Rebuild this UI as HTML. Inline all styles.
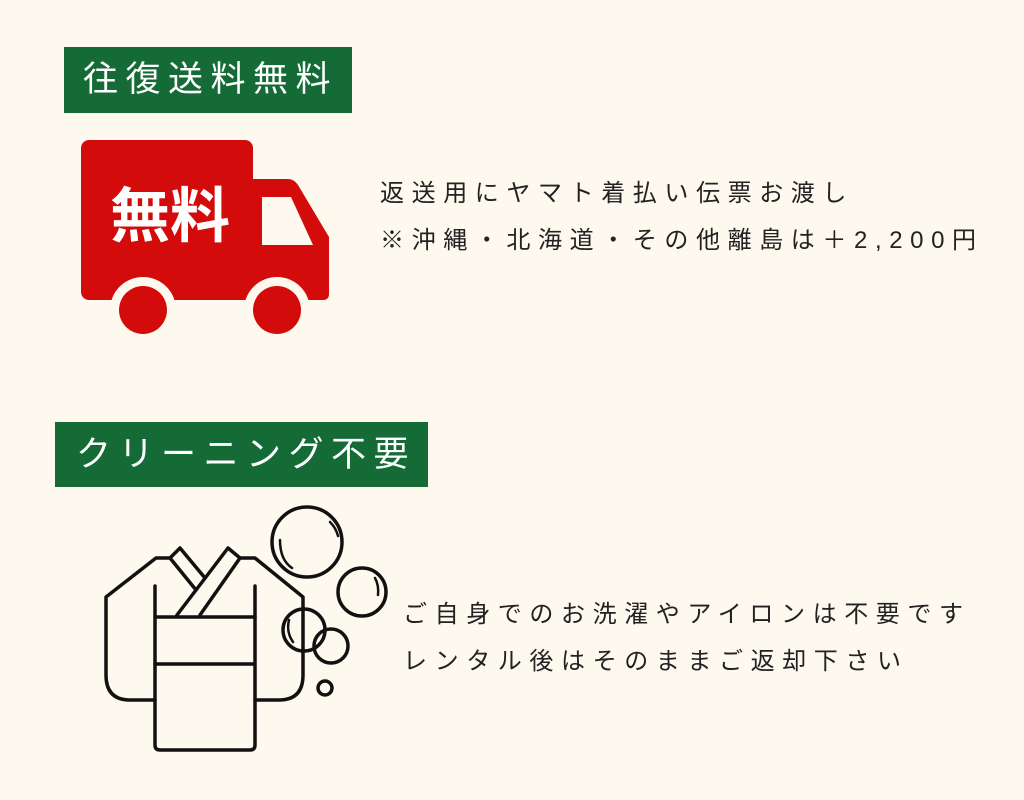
<!DOCTYPE html>
<html><head><meta charset="utf-8"><style>
body{margin:0;width:1024px;height:800px;background:#fdf9ee;position:relative;overflow:hidden;font-family:"Liberation Sans","Noto Sans CJK JP",sans-serif;}
.h{position:absolute;background:#146b36;color:#fff;font-size:35px;letter-spacing:7.5px;line-height:65px;box-sizing:border-box;white-space:nowrap;}
.t{position:absolute;font-size:24px;letter-spacing:7.6px;color:#222;white-space:nowrap;line-height:46px;}
</style></head><body>
<div class="h" style="left:64px;top:47px;width:288px;height:66px;padding-left:19px;">往復送料無料</div>
<div class="h" style="left:55px;top:422px;width:373px;height:65px;padding-left:21px;">クリーニング不要</div>
<svg width="1024" height="800" style="position:absolute;left:0;top:0">
<rect x="81" y="140" width="172" height="160" rx="8" fill="#d30b0b"/>
<path d="M248 179 H288 Q294 179 298 185 L329 237 V294 Q329 300 323 300 H248 Z" fill="#d30b0b"/>
<polygon points="262,197 291,197 313,245 262,245" fill="#fdf9ee"/>
<circle cx="143" cy="310" r="33" fill="#fdf9ee"/><circle cx="143" cy="310" r="24" fill="#d30b0b"/>
<circle cx="277" cy="310" r="33" fill="#fdf9ee"/><circle cx="277" cy="310" r="24" fill="#d30b0b"/>
<text x="170" y="237" font-size="60" font-weight="bold" fill="#fff" text-anchor="middle" font-family="Noto Sans CJK JP,sans-serif">無料</text>
<g fill="none" stroke="#111" stroke-width="3.5" stroke-linejoin="round" stroke-linecap="round">
<path d="M155 700 H130 Q106 700 106 675 V597 L156 558 H170"/>
<path d="M255 700 H279 Q303 700 303 675 V597 L255 558 H240"/>
<path d="M155 586 V745 Q155 750 160 750 H250 Q255 750 255 745 V586"/>
<path d="M155 617 H255 M155 664 H255"/>
<path d="M170 558 L180 548 L205 578 M170 558 L196 590"/>
<path d="M177 615 L228 548 L240 558 L200 615"/>
<circle cx="307" cy="542" r="35"/><circle cx="362" cy="592" r="24"/>
<circle cx="304" cy="630" r="21"/><circle cx="331" cy="646" r="17"/><circle cx="325" cy="688" r="7"/>
</g>
<g fill="none" stroke="#111" stroke-width="2.5" stroke-linecap="round">
<path d="M280 540 Q280 560 292 568"/><path d="M330 522 Q336 528 338 536"/>
<path d="M375 578 Q379 585 378 595"/><path d="M289 620 Q286 632 293 642"/>
</g>
</svg>
<div class="t" style="left:380px;top:171px;">返送用にヤマト着払い伝票お渡し</div>
<div class="t" style="left:380px;top:218px;">※沖縄・北海道・その他離島は＋2,200円</div>
<div class="t" style="left:403px;top:592px;">ご自身でのお洗濯やアイロンは不要です</div>
<div class="t" style="left:403px;top:639px;">レンタル後はそのままご返却下さい</div>
</body></html>
